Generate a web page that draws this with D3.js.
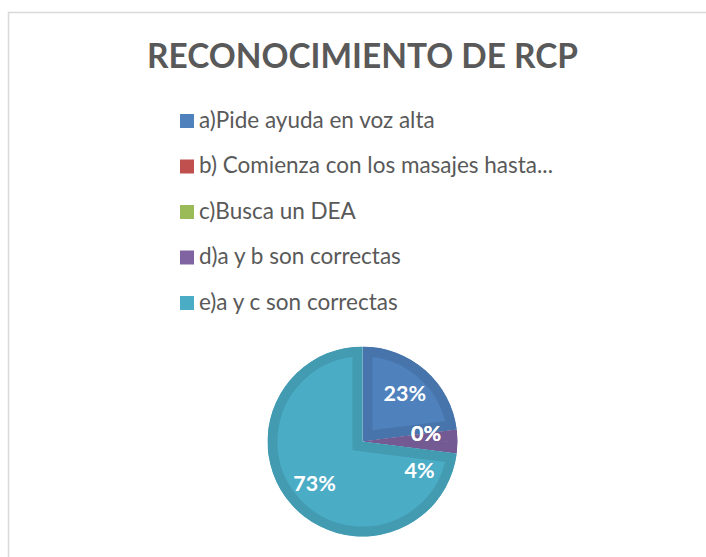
<!DOCTYPE html>
<html>
<head>
<meta charset="utf-8">
<script src="https://cdn.jsdelivr.net/npm/d3@7"></script>
<style>
  html, body { margin: 0; padding: 0; background: #fff; }
  svg { display: block; }
</style>
</head>
<body>
<svg id="chart" width="706" height="557"></svg>
<script>
// ---- data ----
const title = "RECONOCIMIENTO DE RCP";
const categories = [
  "a)Pide ayuda en voz alta",
  "b) Comienza con los masajes hasta...",
  "c)Busca un DEA",
  "d)a y b son correctas",
  "e)a y c son correctas"
];
const values = [23, 0, 0, 4, 73];
const colors = ["#4F81BD", "#C0504D", "#9BBB59", "#8064A2", "#4BACC6"];

// ---- layout ----
const W = 706, H = 557;
const svg = d3.select("#chart");
const FONT = "Lato, 'Open Sans', 'DejaVu Sans', sans-serif";

// chart area border (extends beyond the right / bottom edge of the view)
svg.append("rect")
  .attr("x", 8.5).attr("y", 12.5)
  .attr("width", W + 20).attr("height", H + 20)
  .attr("fill", "#fff")
  .attr("stroke", "#d9d9d9").attr("stroke-width", 1.5);

// helper: fit font size so text reaches a target width
function fitSize(sel, target) {
  const base = parseFloat(sel.attr("font-size"));
  const w = sel.node().getComputedTextLength();
  sel.attr("font-size", base * target / w);
}

// title
const t = svg.append("text")
  .attr("x", 362.5).attr("y", 68)
  .attr("text-anchor", "middle")
  .attr("font-family", FONT).attr("font-weight", "bold")
  .attr("font-size", 30).attr("fill", "#595959")
  .text(title);
fitSize(t, 431);

// legend
const legY = d3.scalePoint().domain(categories).range([114, 296]);
const leg = svg.append("g");
const rows = leg.selectAll("g").data(categories).join("g")
  .attr("transform", d => `translate(180,${legY(d)})`);
rows.append("rect")
  .attr("width", 14).attr("height", 14)
  .attr("fill", (d, i) => colors[i]);
const legTexts = rows.append("text")
  .attr("x", 19).attr("y", 13.5)
  .attr("font-family", FONT).attr("font-size", 19)
  .attr("fill", "#595959")
  .text(d => d);
{
  const longest = legTexts.filter((d, i) => i === 1);
  const w = longest.node().getComputedTextLength();
  legTexts.attr("font-size", 19 * 354 / w);
}

// pie
const cx = 362.5, cy = 441.5, R = 95, rim = 10;
const pie = d3.pie().sort(null).value(d => d)(values);
const arc = d3.arc().innerRadius(0).outerRadius(R);
const defs = svg.append("defs");
const pg = svg.append("g").attr("transform", `translate(${cx},${cy})`);

pie.forEach((p, i) => {
  if (p.endAngle - p.startAngle <= 0) return;
  const id = "clip" + i;
  defs.append("clipPath").attr("id", id)
    .append("path").attr("d", arc(p));
  pg.append("g").attr("clip-path", `url(#${id})`)
    .append("path")
    .attr("d", arc(p))
    .attr("fill", colors[i])
    .attr("stroke", d3.color(colors[i]).darker(0.3))
    .attr("stroke-width", rim * 2)
    .attr("stroke-linejoin", "miter");
});

// data labels
const LR = 64;
const lg = svg.append("g").attr("transform", `translate(${cx},${cy})`);
const placed = [];
const pad = 22;
pie.forEach((p, i) => {
  let ang = (p.startAngle + p.endAngle) / 2;
  const txt = d3.format(".0%")(p.data / d3.sum(values));
  const lab = lg.append("text")
    .attr("text-anchor", "middle")
    .attr("font-family", FONT).attr("font-weight", "bold")
    .attr("font-size", 21.5).attr("fill", "#fff")
    .text(txt);
  const w = lab.node().getComputedTextLength();
  const h = 15;
  const pos = a => [LR * Math.sin(a), -LR * Math.cos(a)];
  let [x, y] = pos(ang);
  if (p.data > 0) {
    const hit = (x, y) => placed.some(b =>
      Math.abs(x - b.x) < (w + b.w) / 2 && Math.abs(y - b.y) < h + pad);
    let guard = 0;
    while (hit(x, y) && guard < 180) {
      ang += Math.PI / 180;
      [x, y] = pos(ang);
      guard++;
    }
  }
  placed.push({x, y, w});
  lab.attr("x", x).attr("y", y + 7.5);
});
</script>
</body>
</html>
